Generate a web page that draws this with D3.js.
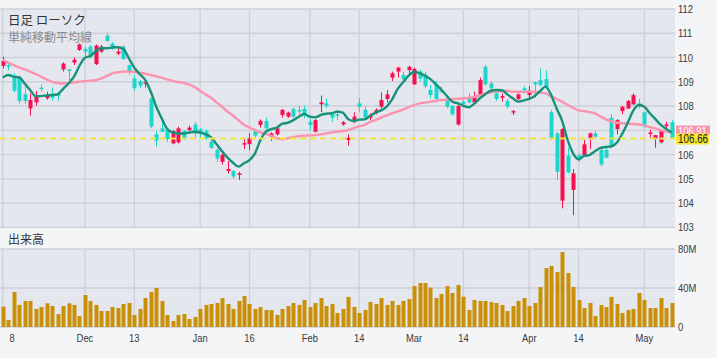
<!DOCTYPE html>
<html><head><meta charset="utf-8">
<script src="https://cdn.jsdelivr.net/npm/d3@7"></script>
<style>
body{margin:0;background:#f4f5f7;}
svg{display:block;font-family:"Liberation Sans",Arial,sans-serif;}
</style></head>
<body><svg id="c" width="717" height="358"></svg>
<script>
const opens=[109.66,109.69,109.21,109.21,108.49,107.90,108.15,108.76,108.32,108.52,108.48,109.51,109.51,109.79,110.31,110.35,110.45,109.73,110.24,110.90,110.57,110.16,110.45,109.69,109.14,109.03,108.92,108.32,106.83,107.08,107.01,
106.46,106.50,106.97,107.01,107.24,107.05,106.97,106.53,106.19,105.70,105.32,105.32,105.18,106.42,106.43,106.97,107.22,107.39,106.74,106.83,107.63,107.56,107.88,107.84,107.88,107.35,106.94,108.07,108.11,107.66,107.66,
107.24,106.60,107.35,108.11,107.84,107.52,107.74,107.97,108.29,109.17,109.42,109.28,109.48,108.89,109.42,109.31,108.66,108.87,108.66,108.25,108.00,107.24,108.18,108.34,108.15,108.45,109.62,108.93,108.52,108.34,108.21,
107.74,108.29,108.73,108.45,108.98,109.07,109.11,107.74,106.87,104.10,105.95,104.54,105.98,105.98,106.67,106.87,106.19,106.19,107.52,107.05,107.79,107.90,108.07,108.11,107.74,106.87,106.67,106.50,107.19,107.33];
const highs=[110.03,109.73,109.35,109.25,108.82,108.52,108.62,108.89,108.59,108.76,108.59,109.80,109.53,110.00,110.58,110.45,110.52,110.54,110.52,111.00,110.63,110.43,110.52,109.72,109.28,109.07,109.07,108.34,106.97,107.45,107.05,
107.01,107.15,107.01,107.19,107.35,107.11,107.05,106.60,106.28,106.12,105.73,105.36,105.29,106.67,106.87,107.01,107.45,107.52,106.91,107.18,107.88,107.77,107.93,108.00,108.01,107.49,107.46,108.43,108.29,107.77,107.84,
107.38,106.83,107.74,108.32,107.97,107.70,107.90,108.56,108.66,109.42,109.62,109.42,109.66,109.58,109.51,109.42,108.87,109.03,108.80,108.39,108.04,108.04,108.25,108.52,108.59,109.17,109.69,109.03,108.66,108.52,108.29,
107.84,108.52,108.82,108.82,109.00,109.55,109.48,107.84,106.94,107.08,106.28,105.40,106.05,106.60,106.91,106.97,106.25,106.25,107.66,107.46,108.01,108.25,108.52,108.29,107.77,107.01,106.80,107.01,107.35,107.42];
const lows=[109.55,109.47,108.55,108.11,108.08,107.60,108.01,108.59,108.26,108.22,108.22,109.42,109.07,109.69,110.27,110.00,109.97,109.69,110.19,110.65,110.32,110.10,109.90,109.28,108.63,108.73,108.76,107.08,106.32,106.91,106.53,
106.42,106.46,106.60,106.97,106.67,106.69,106.60,106.23,105.68,105.59,105.22,105.02,104.95,106.23,106.19,106.71,107.11,107.05,106.56,106.78,107.52,107.52,107.49,107.66,107.49,107.01,106.91,107.74,107.93,107.35,107.42,
107.19,106.36,107.29,107.74,107.46,107.42,107.66,107.90,108.15,109.03,109.17,109.07,109.28,108.87,109.03,108.73,108.32,108.25,108.52,107.90,107.60,107.19,107.93,108.11,108.11,108.43,108.84,108.66,108.21,108.18,107.90,
107.63,108.25,108.52,108.29,108.34,108.80,108.70,106.60,104.95,103.78,105.22,103.50,105.70,105.91,106.23,106.69,105.50,105.84,106.25,106.83,107.66,107.88,108.04,107.90,107.08,106.69,106.28,106.46,107.05,106.64];
const closes=[109.86,109.62,108.63,108.21,108.21,108.25,108.45,108.70,108.45,108.34,108.43,109.75,109.46,109.91,110.54,110.24,110.03,110.49,110.45,110.68,110.38,110.24,109.94,109.44,108.73,108.84,108.98,107.15,106.57,106.94,106.64,
106.97,107.08,106.67,107.11,106.87,106.87,106.67,106.28,105.84,105.98,105.40,105.09,105.22,106.47,106.67,106.78,107.39,107.08,106.87,107.08,107.84,107.73,107.56,107.79,107.66,107.22,107.42,108.15,108.01,107.52,107.60,
107.33,106.69,107.56,107.97,107.52,107.60,107.84,108.25,108.48,109.35,109.58,109.11,109.62,109.53,109.14,108.82,108.45,108.29,108.59,107.97,107.66,108.00,108.07,108.15,108.41,109.07,108.89,108.73,108.29,108.41,107.97,
107.79,108.48,108.66,108.63,108.89,108.87,108.76,106.67,105.29,107.05,105.26,105.22,105.84,106.42,106.87,106.74,105.59,105.87,106.32,107.42,107.97,108.21,108.45,108.01,107.22,106.91,106.80,106.97,107.24,106.66];
const volumes=[20.9,7.2,35.9,22.6,26.7,26.7,18.5,20.5,24.3,21.5,13.3,21.5,24.3,22.6,11.3,32.8,26.7,22.6,16.4,16.4,20.5,19.5,23.6,24.6,12.3,18.5,29.7,35.9,40.0,26.7,12.3,
6.2,12.3,13.3,8.2,10.3,18.5,22.6,23.6,24.6,29.7,23.6,18.5,26.7,31.8,23.6,18.5,20.5,17.4,17.4,12.3,18.5,21.5,24.6,22.6,27.7,20.5,24.6,29.7,21.5,23.6,14.4,
18.5,30.8,20.5,14.4,17.4,25.6,23.6,29.7,22.6,26.7,22.6,26.7,28.7,42.1,45.1,45.1,40.3,29.7,33.8,42.1,34.9,43.1,31.1,17.4,27.7,26.7,26.7,25.6,24.6,22.6,16.4,
21.5,26.7,29.7,21.5,24.6,41.0,60.5,62.6,56.4,76.9,55.4,41.0,27.7,19.5,24.6,11.3,22.6,20.5,30.8,23.6,14.4,17.4,18.5,34.9,27.7,19.5,19.5,29.7,19.5,24.6];
const maShort=[109.17,109.28,109.21,109.18,108.93,108.66,108.41,108.41,108.44,108.45,108.48,108.70,108.93,109.21,109.66,109.99,110.06,110.27,110.38,110.38,110.41,110.42,110.35,109.97,109.58,109.31,109.07,108.59,107.97,107.49,107.05,
106.91,106.87,106.87,106.91,106.94,106.91,106.83,106.71,106.42,106.14,105.87,105.66,105.50,105.64,105.77,106.05,106.60,106.94,107.05,107.11,107.27,107.31,107.42,107.56,107.67,107.56,107.53,107.63,107.68,107.70,107.77,
107.73,107.46,107.38,107.44,107.45,107.60,107.73,107.82,107.97,108.27,108.70,108.98,109.25,109.40,109.36,109.24,109.11,108.89,108.67,108.41,108.18,108.11,108.01,107.95,108.10,108.32,108.49,108.63,108.66,108.65,108.48,
108.32,108.18,108.23,108.29,108.41,108.62,108.80,108.45,107.90,107.39,106.60,106.05,105.80,105.94,105.98,106.14,106.27,106.31,106.34,106.50,106.87,107.33,107.82,108.04,107.97,107.70,107.46,107.22,107.05,106.91];
const maLong=[109.90,109.79,109.69,109.59,109.51,109.42,109.32,109.21,109.10,109.00,108.95,108.93,108.95,108.98,109.00,109.03,109.04,109.07,109.14,109.24,109.35,109.39,109.42,109.42,109.40,109.37,109.33,109.28,109.22,109.17,109.10,
109.04,108.99,108.95,108.88,108.78,108.63,108.48,108.34,108.15,107.97,107.77,107.60,107.41,107.23,107.12,107.01,106.91,106.85,106.76,106.67,106.63,106.67,106.72,106.76,106.78,106.79,106.80,106.83,106.87,106.91,106.95,
106.97,107.01,107.09,107.16,107.22,107.35,107.42,107.52,107.61,107.70,107.78,107.85,107.95,108.04,108.11,108.14,108.18,108.21,108.25,108.26,108.29,108.30,108.32,108.34,108.38,108.44,108.51,108.56,108.60,108.62,108.62,
108.59,108.59,108.59,108.59,108.58,108.56,108.52,108.40,108.29,108.18,108.04,107.93,107.82,107.79,107.75,107.70,107.57,107.45,107.37,107.31,107.29,107.27,107.26,107.24,107.19,107.13,107.08,107.01,106.95,106.91];
const tickIndex=[0,15,24,36,45,56,65,75,84,96,105,117];
const tickLabels=["8","Dec","13","Jan","16","Feb","14","Mar","14","Apr","14","May"];
const priceTicks=[103,104,105,106,107,108,109,110,111,112];
const volTicks=[0,40,80];
const volTickLabels=["0","40M","80M"];
const lastPrice=106.66;
const lastLong=106.91;

const svg=d3.select("#c");
const W=675;
const x=d3.scaleLinear().domain([0,122]).range([2.7,671.8]);
const y=d3.scaleLinear().domain([103,112]).range([227.3,9]);
const yv=d3.scaleLinear().domain([0,80]).range([327,249]);
const idx=d3.range(opens.length);
const RED="#f7104f", CYAN="#1cd6cc", GRID="#cdcfd9";
const SX=0.82, FS=11.5;

// narrow-text helper
function ntext(g,px,py,str,opt={}){
  return g.append("text")
   .attr("transform",`translate(${px},${py}) scale(${SX},1)`)
   .attr("dy","0.35em").attr("font-size",opt.fs||FS)
   .attr("text-anchor",opt.anchor||"start")
   .attr("fill",opt.fill||"#3a3a3a").text(str);
}

// panels
svg.append("rect").attr("x",0).attr("y",9).attr("width",W).attr("height",y(103)-9).attr("fill","#e5e7ef");
svg.append("rect").attr("x",0).attr("y",249).attr("width",W).attr("height",327-249).attr("fill","#e5e7ef");

// grids
const gm=svg.append("g");
gm.selectAll("line.h").data(priceTicks).join("line")
 .attr("x1",0).attr("x2",W).attr("y1",d=>y(d)).attr("y2",d=>y(d)).attr("stroke",GRID).attr("stroke-width",1.3);
gm.selectAll("line.v").data(tickIndex).join("line")
 .attr("x1",d=>x(d)).attr("x2",d=>x(d)).attr("y1",9).attr("y2",y(103)).attr("stroke",GRID).attr("stroke-width",1.3);
const gv=svg.append("g");
gv.selectAll("line.h").data(volTicks).join("line")
 .attr("x1",0).attr("x2",W).attr("y1",d=>yv(d)).attr("y2",d=>yv(d)).attr("stroke",GRID).attr("stroke-width",1.3);
gv.selectAll("line.v").data(tickIndex).join("line")
 .attr("x1",d=>x(d)).attr("x2",d=>x(d)).attr("y1",249).attr("y2",327).attr("stroke",GRID).attr("stroke-width",1.3);

// candles
svg.append("clipPath").attr("id","cm").append("rect").attr("x",0).attr("y",9).attr("width",W).attr("height",y(103)-9);
const cg=svg.append("g").attr("clip-path","url(#cm)");
const col=i=>closes[i]>=opens[i]?RED:CYAN;
cg.selectAll("line.w").data(idx).join("line")
 .attr("x1",i=>Math.round(x(i))+0.5).attr("x2",i=>Math.round(x(i))+0.5)
 .attr("y1",i=>y(highs[i])).attr("y2",i=>y(lows[i])).attr("stroke",col).attr("stroke-width",1);
cg.selectAll("rect.b").data(idx).join("rect")
 .attr("x",i=>Math.round(x(i))-1.5).attr("width",4)
 .attr("y",i=>y(Math.max(opens[i],closes[i])))
 .attr("height",i=>Math.max(1.5,Math.abs(y(opens[i])-y(closes[i]))))
 .attr("fill",col);

// MA lines
const line=arr=>d3.line().x(i=>x(i)).y(i=>y(arr[i])).curve(d3.curveMonotoneX)(idx);
cg.append("path").attr("d",line(maLong)).attr("fill","none").attr("stroke","#fb93ad").attr("stroke-width",2.4);
cg.append("path").attr("d",line(maShort)).attr("fill","none").attr("stroke","#16927a").attr("stroke-width",2.4);

// last price line
svg.append("line").attr("x1",0).attr("x2",W).attr("y1",y(lastPrice)).attr("y2",y(lastPrice))
 .attr("stroke","#f3e63a").attr("stroke-width",2).attr("stroke-dasharray","6,4");

// volume bars
svg.append("g").selectAll("rect").data(idx).join("rect")
 .attr("x",i=>Math.round(x(i))-1.5).attr("width",4)
 .attr("y",i=>yv(volumes[i])).attr("height",i=>yv(0)-yv(volumes[i]))
 .attr("fill","#c98f07");

// right axes
const ax=svg.append("g");
priceTicks.forEach(d=>ntext(ax,678,y(d),String(d)));
volTicks.forEach((d,i)=>ntext(ax,678,yv(d),volTickLabels[i]));

// value boxes (long MA label sits just above the last-price label, partly covered)
const boxY=y(lastPrice);
svg.append("rect").attr("x",676).attr("y",boxY-13).attr("width",34).attr("height",9).attr("fill","#fb93ad");
ntext(svg,678,boxY-8,lastLong.toFixed(2),{fill:"#fff"});
svg.append("rect").attr("x",676).attr("y",boxY-5).attr("width",33).attr("height",11).attr("fill","#f7e62e");
ntext(svg,678,boxY+0.5,lastPrice.toFixed(2),{fill:"#222",fs:12});

// x labels
const xl=svg.append("g");
tickIndex.forEach((d,i)=>ntext(xl,i===0?12:x(d),338,tickLabels[i],{anchor:"middle"}));

// titles
const jp='"Noto Sans CJK JP",sans-serif';
svg.append("text").attr("x",8).attr("y",20.5).attr("dy","0.35em").attr("font-family",jp).attr("font-size",12.5).attr("fill","#333").text("日足 ローソク");
svg.append("text").attr("x",8).attr("y",37.5).attr("dy","0.35em").attr("font-family",jp).attr("font-size",12).attr("fill","#8a8a8a").text("単純移動平均線");
svg.append("text").attr("x",8).attr("y",239.5).attr("dy","0.35em").attr("font-family",jp).attr("font-size",12).attr("fill","#333").text("出来高");
</script></body></html>
